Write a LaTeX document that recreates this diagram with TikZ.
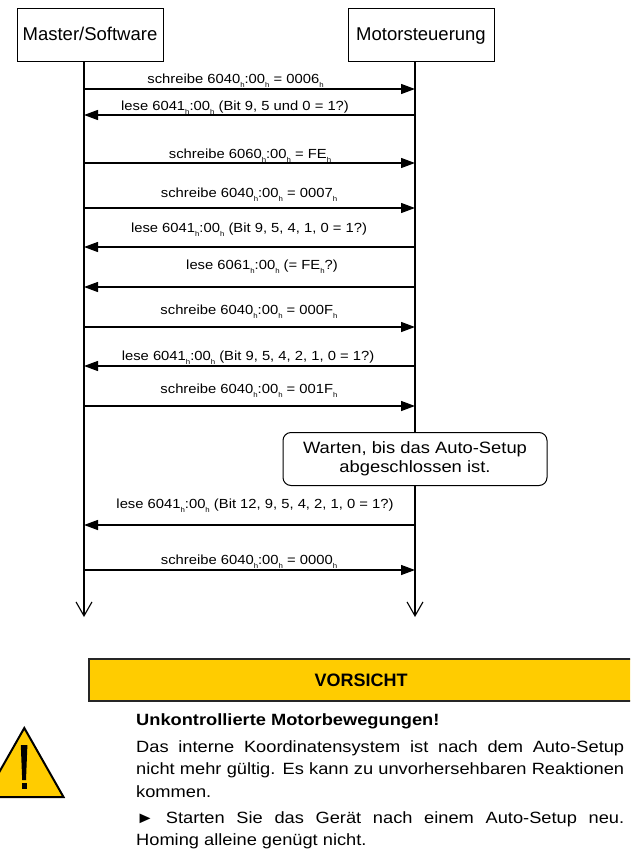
\documentclass[tikz,border=0pt]{standalone}
\usepackage{fontspec}
\usepackage{tikz}
\usetikzlibrary{arrows.meta}
\setmainfont{Liberation Sans}
\newfontfamily\lblfont{Liberation Sans}[FakeStretch=1.12]
\newfontfamily\bodyfont{Liberation Sans}[FakeStretch=1.12]
\definecolor{warnyellow}{HTML}{FFCC00}
\newcommand\hsub{\raisebox{-4pt}{\fontsize{7}{8}\selectfont h}}

\begin{document}
\begin{tikzpicture}[x=1pt, y=-1pt,
  box/.style={rectangle, draw=black, line width=1pt, minimum width=146, minimum height=53, inner sep=0pt, text height=13.5pt, text depth=4pt, font=\fontsize{18.5}{22}\selectfont},
  life/.style={draw=black, line width=1.1pt, -{Straight Barb[length=14pt, width=16pt]}},
  msg/.style={draw=black, line width=1.3pt, -{Triangle[length=14pt, width=10pt]}},
  lbl/.style={anchor=base, inner sep=0pt, font=\lblfont\fontsize{13.2}{15}\selectfont},
  waitbox/.style={rectangle, rounded corners=8pt, draw=black, fill=white, line width=1pt, align=center, minimum width=264, minimum height=53, inner sep=0pt, font=\bodyfont\fontsize{16.4}{19.5}\selectfont},
  header/.style={rectangle, draw=black!85, fill=warnyellow, line width=1.8pt, minimum width=544, minimum height=42, inner sep=0pt, font=\bfseries\fontsize{18}{22}\selectfont},
  bodyline/.style={anchor=base west, inner sep=0pt, font=\bodyfont\fontsize{16.3}{22}\selectfont}]
			\clip (0,0) rectangle (630,859);
			
			\node[box] (master) at (90,35.5){Master/Software};
			\node[box] (motor) at (421,35.5){Motorsteuerung};
			
			\coordinate (mtop) at (84,62);
			\coordinate (stop) at (415,62);
			\coordinate (mend) at (84,617);
			\coordinate (send) at (415,617);
			\draw[life] (mtop) -- (mend);
			\draw[life] (stop) -- (send);
			
			% Nachrichten
			\coordinate (m1) at (84,89); \coordinate (s1) at (415,89);
			\draw[msg] (m1) -- (s1);
			\node[lbl] (l1) at (235.5,83){schreibe 6040\hsub:00\hsub{} = 0006\hsub};
			
			\coordinate (m2) at (84,115); \coordinate (s2) at (415,115);
			\draw[msg] (s2) -- (m2);
			\node[lbl] (l2) at (235,110){lese 6041\hsub:00\hsub{} (Bit 9, 5 und 0 = 1?)};
			
			\coordinate (m3) at (84,163); \coordinate (s3) at (415,163);
			\draw[msg] (m3) -- (s3);
			\node[lbl] (l3) at (250,158){schreibe 6060\hsub:00\hsub{} = FE\hsub};
			
			\coordinate (m4) at (84,208); \coordinate (s4) at (415,208);
			\draw[msg] (m4) -- (s4);
			\node[lbl] (l4) at (249,197){schreibe 6040\hsub:00\hsub{} = 0007\hsub};
			
			\coordinate (m5) at (84,247); \coordinate (s5) at (415,247);
			\draw[msg] (s5) -- (m5);
			\node[lbl] (l5) at (249,232){lese 6041\hsub:00\hsub{} (Bit 9, 5, 4, 1, 0 = 1?)};
			
			\coordinate (m6) at (84,287); \coordinate (s6) at (415,287);
			\draw[msg] (s6) -- (m6);
			\node[lbl] (l6) at (262,269){lese 6061\hsub:00\hsub{} (= FE\hsub?)};
			
			\coordinate (m7) at (84,327); \coordinate (s7) at (415,327);
			\draw[msg] (m7) -- (s7);
			\node[lbl] (l7) at (249,314){schreibe 6040\hsub:00\hsub{} = 000F\hsub};
			
			\coordinate (m8) at (84,366); \coordinate (s8) at (415,366);
			\draw[msg] (s8) -- (m8);
			\node[lbl] (l8) at (248,360){lese 6041\hsub:00\hsub{} (Bit 9, 5, 4, 2, 1, 0 = 1?)};
			
			\coordinate (m9) at (84,406); \coordinate (s9) at (415,406);
			\draw[msg] (m9) -- (s9);
			\node[lbl] (l9) at (249,393){schreibe 6040\hsub:00\hsub{} = 001F\hsub};
			
			\node[waitbox] (wait) at (415,459){Warten, bis das Auto-Setup\\abgeschlossen ist.};
			
			\coordinate (m10) at (84,525); \coordinate (s10) at (415,525);
			\draw[msg] (s10) -- (m10);
			\node[lbl] (l10) at (255,508){lese 6041\hsub:00\hsub{} (Bit 12, 9, 5, 4, 2, 1, 0 = 1?)};
			
			\coordinate (m11) at (84,570); \coordinate (s11) at (415,570);
			\draw[msg] (m11) -- (s11);
			\node[lbl] (l11) at (249,564){schreibe 6040\hsub:00\hsub{} = 0000\hsub};
			
			% Warnhinweis
			\node[header] (vorsicht) at (361,680){VORSICHT};
			\filldraw[fill=warnyellow, line width=2pt, line join=miter] (24.3,728) -- (63.5,797) -- (-14.9,797) -- cycle;
			\fill[black] (20.8,745) -- (27.4,745) -- (26,780) -- (22.2,780) -- cycle;
			\fill[black] (22.2,783) rectangle (26.6,788.5);
			
			\node[bodyline] (warn1) at (136,725){\bfseries Unkontrollierte Motorbewegungen!};
			\node[bodyline] (warn2) at (136,752){\makebox[488pt][s]{Das interne Koordinatensystem ist nach dem Auto-Setup}};
			\node[bodyline] (warn3) at (136,774){\makebox[488pt][s]{nicht mehr gültig. Es kann zu unvorhersehbaren Reaktionen}};
			\node[bodyline] (warn4) at (136,797){kommen.};
			\node[bodyline] (warn5) at (136,823){\makebox[488pt][s]{► Starten Sie das Gerät nach einem Auto-Setup neu.}};
			\node[bodyline] (warn6) at (136,845){Homing alleine genügt nicht.};
\end{tikzpicture}
\end{document}
